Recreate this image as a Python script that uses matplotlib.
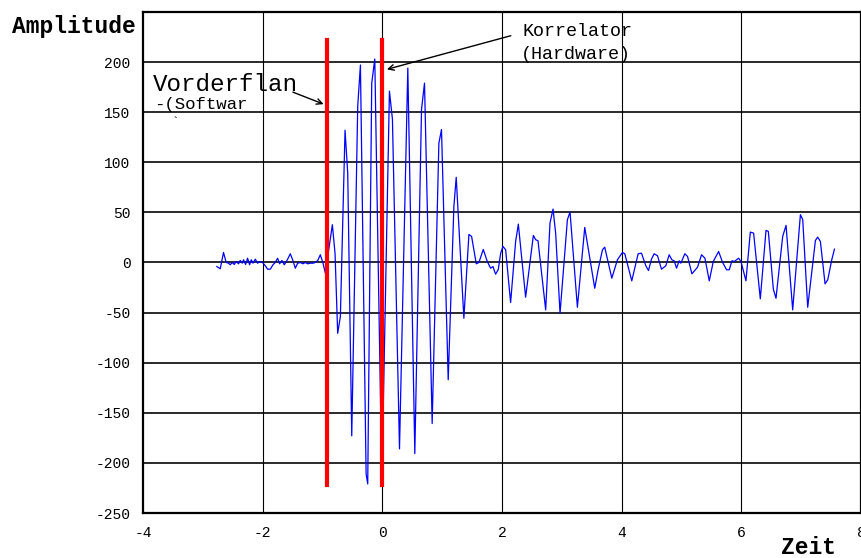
import matplotlib
matplotlib.use('Agg')
import matplotlib.pyplot as plt

plt.rcParams['font.family'] = ['Liberation Mono', 'DejaVu Sans Mono']
plt.rcParams['axes.unicode_minus'] = False

zeit = [-2.767, -2.711, -2.656, -2.611, -2.572, -2.544, -2.510, -2.477, -2.444, -2.405,
        -2.377, -2.343, -2.321, -2.287, -2.254, -2.220, -2.192, -2.164, -2.125, -2.087,
        -2.042, -2.003, -1.958, -1.919, -1.874, -1.830, -1.791, -1.752, -1.718, -1.679,
        -1.640, -1.584, -1.540, -1.501, -1.456, -1.417, -1.372, -1.328, -1.289, -1.250,
        -1.205, -1.161, -1.121, -1.082, -1.038, -0.993, -0.954,
        -0.837, -0.792, -0.748, -0.703, -0.625, -0.580, -0.513, -0.413, -0.368, -0.273,
        -0.246, -0.179, -0.128, -0.010, 0.117, 0.167, 0.285, 0.424,
        0.541, 0.653, 0.703, 0.831, 0.943, 0.987, 1.099, 1.194, 1.233, 1.361,
        1.445, 1.490, 1.568, 1.612, 1.685, 1.752, 1.808, 1.847, 1.891, 1.936,
        1.975, 2.014, 2.059,
        2.142, 2.226, 2.271, 2.393, 2.522, 2.561, 2.600, 2.728, 2.800, 2.851,
        2.895, 2.968, 3.091, 3.135, 3.258, 3.381, 3.548, 3.604, 3.677, 3.715,
        3.833, 3.927, 4.011, 4.050, 4.167, 4.273, 4.329, 4.402, 4.446, 4.496,
        4.541, 4.597, 4.664, 4.736, 4.792, 4.837, 4.876, 4.915, 4.959, 4.987,
        5.054, 5.099, 5.172, 5.266, 5.333, 5.389, 5.462, 5.529, 5.618, 5.685,
        5.752, 5.796, 5.841, 5.880, 5.953, 5.992, 6.075, 6.148, 6.203, 6.315,
        6.410, 6.449, 6.533, 6.577, 6.689, 6.745, 6.856, 6.985, 7.024, 7.107,
        7.236, 7.274, 7.319, 7.397, 7.442, 7.509, 7.554]

# Amplitude an diesen Zeitpunkten
amplitude = [-4, -6.3, 10, 0, -0.7, -2.3, 0, -2, 1, -1.3,
             2, -0.7, 2.7, -2, 4.3, -2.3, 2.7, -0.7, 3.3, -0.7,
             1, 0, -3.3, -6.7, -6.7, -2.3, 0, 4.3, -1.3, 2,
             -2.3, 3.3, 8.7, 2.7, -5.7, -0.7, 0, -1.3, 0, -1.3,
             -0.7, -0.7, 0, 2, 7.7, -0.7, -10.7,
             37.7, 9, -70.7, -54, 132, 89, -173, 156, 197, -211,
             -221, 179, 203, -218, 171, 143, -186, 194,
             -190.7, 152.7, 179, -160.7, 119, 132.7, -117, 56, 85, -55.7,
             28, 26, -1.3, 0, 13, 1, -5.7, -4, -11.7, -7,
             9, 16, 12.7,
             -40, 21, 38.3, -34.7, 27, 22.7, 21.7, -47.3, 39.3, 53.3,
             29, -50.7, 42.7, 50.3, -44.7, 35, -25.7, -7.3, 12.7, 15.3,
             -15.7, 2.7, 10, 8.7, -18.3, 8.7, 9.3, -3.3, -8, 3.3,
             8.7, 6.7, -6.7, -3.3, 7.7, 2.7, 1.7, -5.7, 1.7, -0.7,
             8.7, 6, -11.3, -4.7, 7.7, 4.3, -18.3, 1, 11, 0,
             -7.3, -7.3, 1.7, 1, 4.3, 1, -18.3, 30.3, 29.3, -36.3,
             32, 31, -26.7, -35.7, 26, 37, -47.3, 47.7, 42.7, -44.7,
             22, 25.3, 21, -21.3, -17.3, 2.7, 13.3]

# Markierungen: Vorderflanke (Software) und Korrelator (Hardware)
marker_zeit = [-0.92, 0.0]
marker_hoehe = 222

xticks = [-4, -2, 0, 2, 4, 6, 8]
yticks = [-250, -200, -150, -100, -50, 0, 50, 100, 150, 200]

fig = plt.figure(figsize=(8.62, 5.58), dpi=100)
ax = fig.add_axes([0.166, 0.0806, 0.833, 0.898])

# Gitter: waagerecht dicker und grau, senkrecht duenn und schwarz
for y in yticks[1:]:
    ax.axhline(y, color='#2a2a2a', lw=1.4, zorder=1)
for x in xticks[1:-1]:
    ax.axvline(x, color='black', lw=0.8, zorder=1)

ax.plot(zeit, amplitude, color='#0000ff', lw=0.9, zorder=2)

for t in marker_zeit:
    ax.plot([t, t], [-marker_hoehe, marker_hoehe], color='#ff0000', lw=3, zorder=3)

ax.set_xlim(-4, 8)
ax.set_ylim(-250, 250)
ax.set_xticks(xticks)
ax.set_yticks(yticks)
ax.tick_params(length=0, labelsize=10.5, pad=9)
for s in ax.spines.values():
    s.set_linewidth(1.6)

# Beschriftungen
ax.text(-3.83, 178, 'Vorderflan', fontsize=17.5, va='center', ha='left', zorder=4)
ax.text(-3.81, 158, '-(Softwar', fontsize=12.5, va='center', ha='left', zorder=4)
ax.text(-3.52, 139, '`', fontsize=9, va='center', ha='left', zorder=4)
ax.annotate('', xy=(-0.94, 157), xytext=(-1.54, 171),
            arrowprops=dict(arrowstyle='->', color='black', lw=1), zorder=4)

ax.text(2.34, 230, 'Korrelator', fontsize=13.2, va='center', ha='left', zorder=4)
ax.text(2.32, 208, '(Hardware)', fontsize=13.2, va='center', ha='left', zorder=4)
ax.annotate('', xy=(0.03, 192), xytext=(2.19, 227),
            arrowprops=dict(arrowstyle='->', color='black', lw=1), zorder=4)

fig.text(12 / 862, 1 - 26 / 558, 'Amplitude', fontsize=16.5, fontweight='bold',
         ha='left', va='center')
fig.text(836 / 862, 1 - 548 / 558, 'Zeit', fontsize=16.5, fontweight='bold',
         ha='right', va='center')

plt.savefig('out.png', dpi=100)
